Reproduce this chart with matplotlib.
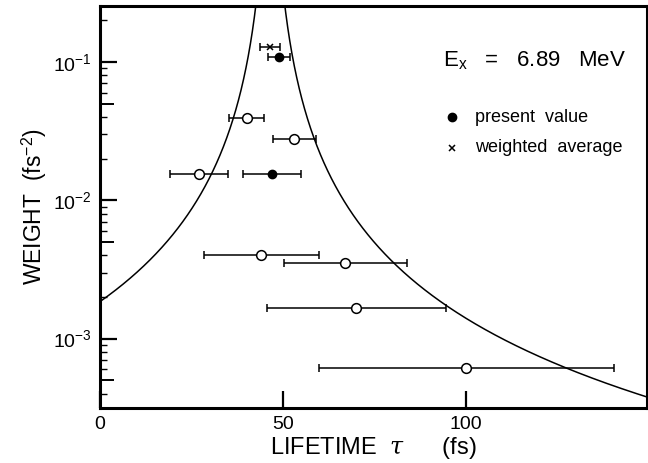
import numpy as np
import matplotlib
matplotlib.use("Agg")
import matplotlib.pyplot as plt
from matplotlib.ticker import LogLocator, NullFormatter, FixedLocator

plt.rcParams['font.family'] = ['Liberation Sans', 'DejaVu Sans']
plt.rcParams['mathtext.fontset'] = 'custom'
plt.rcParams['mathtext.rm'] = 'Liberation Sans'
plt.rcParams['mathtext.it'] = 'DejaVu Serif:italic'

# measured lifetimes (fs), uncertainties and weights (fs^-2)
other_tau = [40.0, 53.0, 27.0, 44.0, 67.0, 70.0, 100.0]
other_err = [4.8, 5.9, 7.9, 15.7, 16.8, 24.5, 40.2]
other_w = [0.039, 0.0277, 0.0155, 0.00404, 0.00354, 0.00166, 0.000616]

present_tau = [48.9, 47.0]
present_err = [3.0, 8.0]
present_w = [0.109, 0.0155]

avg_tau = [46.5]
avg_err = [2.7]
avg_w = [0.128]

# boundary curve: w = (k / (tau - tau0))^2
tau0 = 46.5
k = 2.0

fig = plt.figure(figsize=(6.48, 4.63), dpi=100)
ax = fig.add_axes([0.1543, 0.1188, 0.8440, 0.8680])

t = np.linspace(0, 150, 3001)
t = t[np.abs(t - tau0) > 0.5]
left = t[t < tau0]
right = t[t > tau0]
ax.plot(left, (k / (left - tau0)) ** 2, color='black', lw=1.1)
ax.plot(right, (k / (right - tau0)) ** 2, color='black', lw=1.1)

ekw = dict(ecolor='black', elinewidth=1.1, capsize=3.2, capthick=1.1, linestyle='none')
ax.errorbar(other_tau, other_w, xerr=other_err, marker='o', ms=7, mfc='white',
            mec='black', mew=1.1, zorder=3, **ekw)
ax.errorbar(present_tau, present_w, xerr=present_err, marker='o', ms=6, mfc='black',
            mec='black', zorder=3, **ekw)
ax.errorbar(avg_tau, avg_w, xerr=avg_err, marker='x', ms=5, mec='black', mew=1.1,
            zorder=3, **ekw)

ax.set_yscale('log')
ax.set_xlim(0, 149.3)
ax.set_ylim(3.15e-4, 0.253)

ax.set_xticks([0, 50, 100])
ax.set_xticklabels(['0', '50', '100'])
ax.yaxis.set_major_locator(FixedLocator([1e-3, 1e-2, 1e-1]))
ax.set_yticklabels([r'$\mathregular{10^{-3}}$', r'$\mathregular{10^{-2}}$', r'$\mathregular{10^{-1}}$'])
ax.yaxis.set_minor_locator(LogLocator(base=10, subs=[2, 3, 4, 6, 7, 8, 9]))
ax.yaxis.set_minor_formatter(NullFormatter())

ax.tick_params(axis='both', which='major', direction='in', length=12, width=1.6,
               labelsize=14, pad=6)
ax.tick_params(axis='y', which='minor', direction='in', length=5, width=1.0)
ax.tick_params(axis='x', which='minor', length=0)

sec = ax.secondary_yaxis('left')
sec.set_yscale('log')
sec.yaxis.set_major_locator(FixedLocator([5e-4, 5e-3, 5e-2]))
sec.yaxis.set_minor_locator(FixedLocator([]))
sec.tick_params(axis='y', which='major', direction='in', length=10, width=1.4,
                labelleft=False)
sec.spines['left'].set_visible(False)

for s in ax.spines.values():
    s.set_linewidth(2.2)

ax.set_xlabel(r'LIFETIME  $\tau$      (fs)', fontsize=17, labelpad=1)
ax.set_ylabel(r'WEIGHT  (fs$^{\mathregular{-2}}$)', fontsize=16.5, labelpad=3)

ax.text(0.627, 0.865, r'E$_{\mathregular{x}}$   =   6.89   MeV', transform=ax.transAxes,
        fontsize=16, va='center', ha='left')
ax.plot([0.644], [0.724], marker='o', ms=6, color='black', transform=ax.transAxes,
        clip_on=False)
ax.text(0.686, 0.724, 'present  value', transform=ax.transAxes, fontsize=13,
        va='center', ha='left')
ax.plot([0.644], [0.648], marker='x', ms=5, mew=1.1, color='black',
        transform=ax.transAxes, clip_on=False)
ax.text(0.686, 0.648, 'weighted  average', transform=ax.transAxes, fontsize=13,
        va='center', ha='left')

fig.savefig('out.png', dpi=100)
